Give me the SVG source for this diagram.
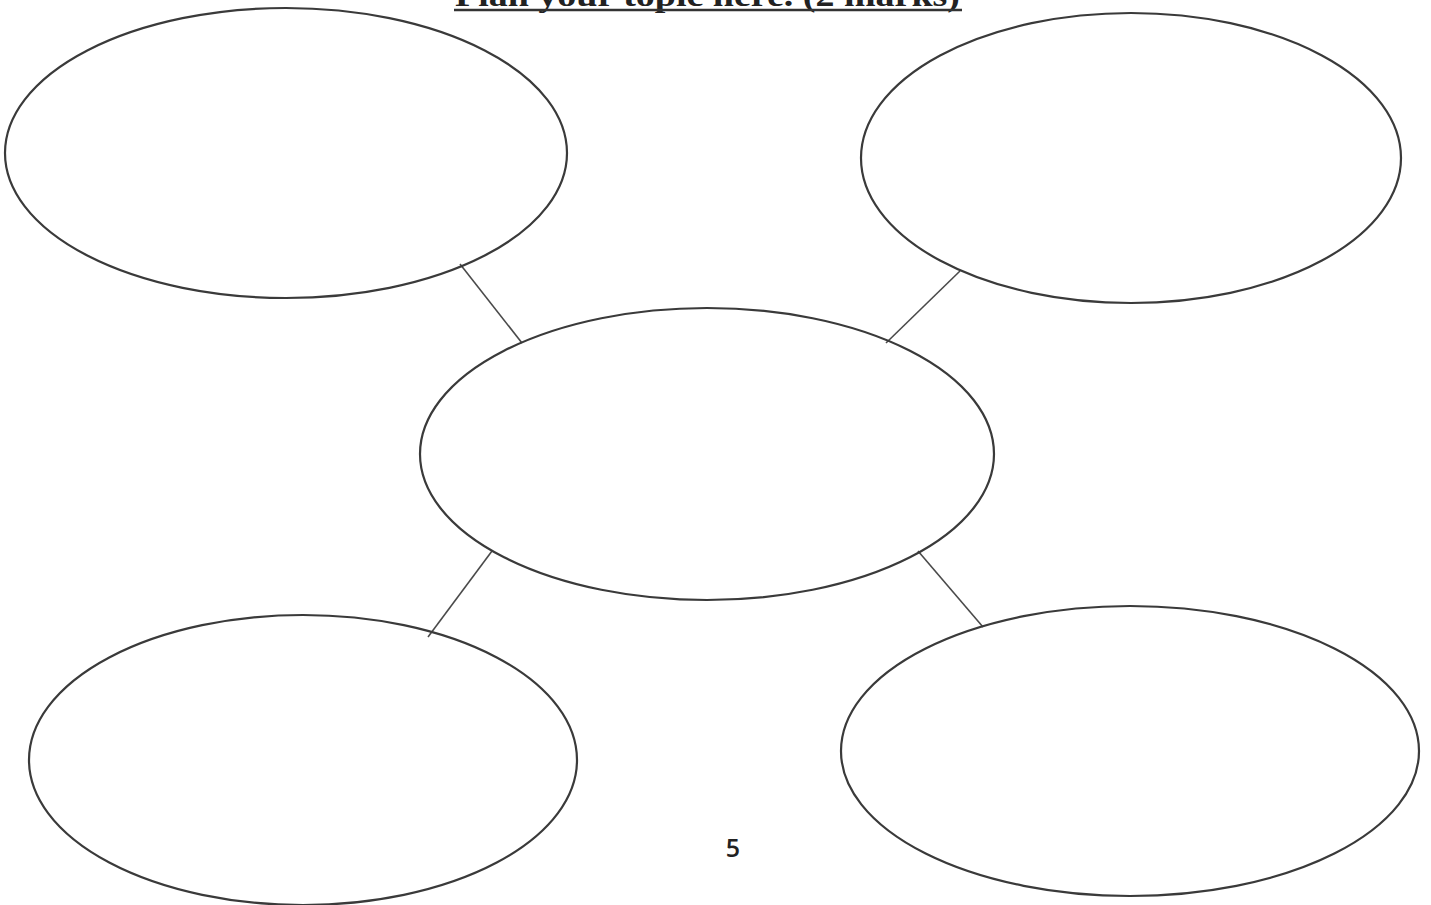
<svg xmlns="http://www.w3.org/2000/svg" width="1431" height="905" viewBox="0 0 1431 905">
<style>
.n{fill:none;stroke:#3a3a3a;stroke-width:2.2}
.c{stroke:#4a4a4a;stroke-width:1.6;fill:none}
.t{font-family:"Liberation Serif",serif;font-weight:bold;font-size:32px;fill:#222}
.p{font-family:"Open Sans","Liberation Sans",sans-serif;font-weight:600;font-size:25px;fill:#222}
</style>
<rect width="1431" height="905" fill="#fff"/>
<text class="t" x="455" y="6" textLength="505" lengthAdjust="spacingAndGlyphs">Plan your topic here. (2 marks)</text>
<line x1="454" y1="10" x2="962" y2="10" stroke="#333" stroke-width="2.5"/>
<g id="connectors">
<line class="c" x1="460" y1="264" x2="522" y2="343"/>
<line class="c" x1="960" y1="271" x2="886" y2="343"/>
<line class="c" x1="492" y1="551" x2="428" y2="637"/>
<line class="c" x1="918" y1="551" x2="983" y2="627"/>
</g>
<g id="top-left"><ellipse class="n" cx="286" cy="153" rx="281" ry="145"/></g>
<g id="top-right"><ellipse class="n" cx="1131" cy="158" rx="270" ry="145"/></g>
<g id="center"><ellipse class="n" cx="707" cy="454" rx="287" ry="146"/></g>
<g id="bottom-left"><ellipse class="n" cx="303" cy="760" rx="274" ry="145"/></g>
<g id="bottom-right"><ellipse class="n" cx="1130" cy="751" rx="289" ry="145"/></g>
<text class="p" x="733" y="857" text-anchor="middle">5</text>
</svg>
